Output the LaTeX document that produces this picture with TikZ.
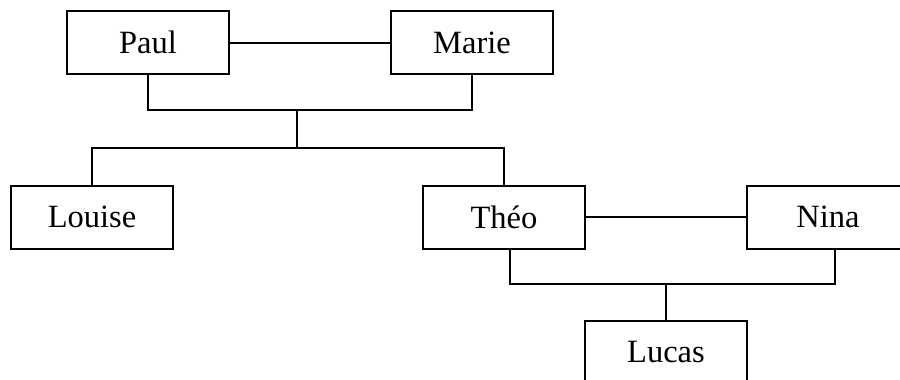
\documentclass[tikz,border=0pt]{standalone}
\usepackage{fontspec}
\setmainfont{Liberation Serif}
\usepackage{tikz}
\usetikzlibrary{positioning}

\begin{document}
\begin{tikzpicture}
 	  [x=1pt, y=-1pt, line width=2pt,
 	person/.style={rectangle,draw=black,fill=white,minimum width=162pt,minimum height=63pt,
 	  inner sep=0pt,font=\fontsize{32.5}{38}\selectfont}]
 	\useasboundingbox (0,0) rectangle (900,380);
 	\clip (0,0) rectangle (900,380);
 	
 	\node[person](paul) at (148,42.5) {Paul}; 
 	\node[person](marie) at (472,42.5) {Marie}; 
 	\node[person](louise) at (92,217) {Louise}; 
 	\node[person](theo) at (504,217) {Théo}; 
 	\node[person](nina) at (828,217) {Nina}; 
 	\node[person](lucas) at (666,352.5) {Lucas}; 
 	\coordinate (pm) at (297,110);
 	\coordinate (kids) at (297,148);
 	\coordinate (tn) at (666,284);
 	
 	\draw (paul.east) -- (marie.west);
 	\draw (paul.south) |- (pm) -| (marie.south);
 	\draw (pm) -- (kids);
 	\draw (louise.north) |- (kids) -| (theo.north);
 	
 	\draw (theo.east) -- (nina.west);
 	\draw ([xshift=6pt]theo.south) |- (tn) -| ([xshift=7pt]nina.south);
 	\draw (tn) -- (lucas.north);
 \end{tikzpicture}
\end{document}
